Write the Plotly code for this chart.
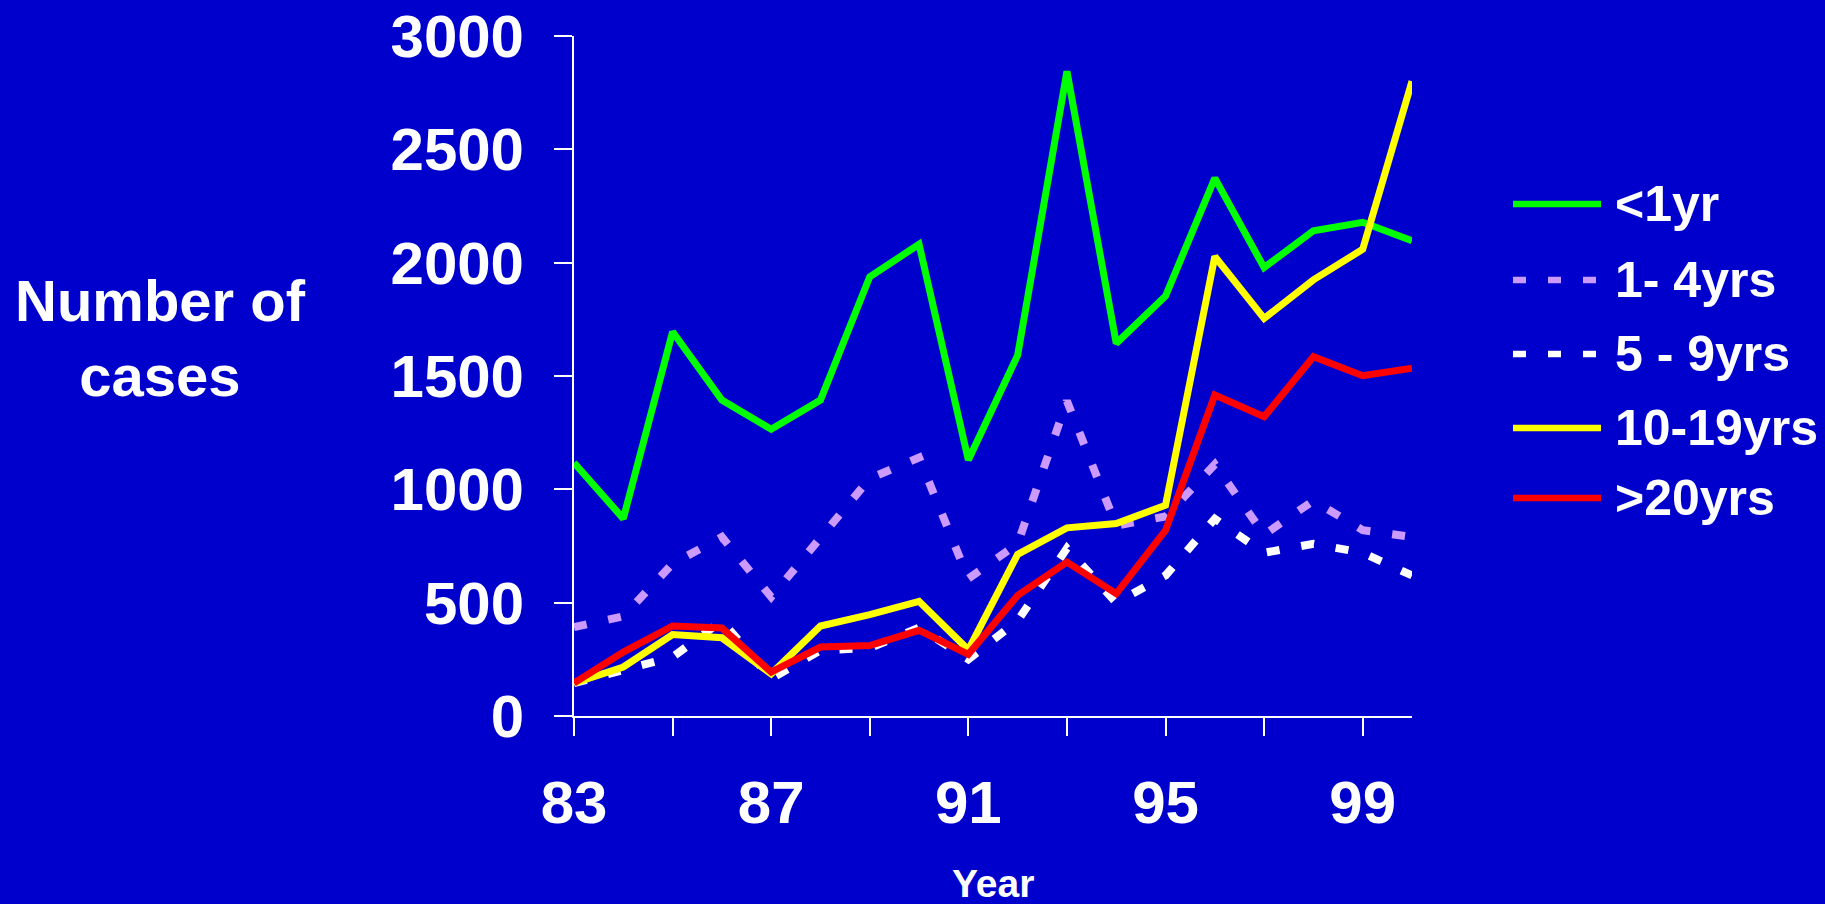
import plotly.graph_objects as go

years = list(range(83, 101))
series_names = ["<1yr", "1- 4yrs", "5 - 9yrs", "10-19yrs", ">20yrs"]
lt1 = [1117, 871, 1695, 1394, 1265, 1394, 1938, 2081, 1129, 1592, 2844, 1644, 1853, 2373, 1978, 2141, 2178, 2097]
y1_4 = [392, 440, 672, 790, 525, 783, 1048, 1140, 606, 760, 1390, 840, 880, 1110, 800, 950, 820, 790]
y5_9 = [145, 200, 260, 420, 165, 290, 300, 390, 250, 420, 740, 500, 620, 870, 720, 760, 720, 620]
y10_19 = [145, 216, 359, 345, 186, 397, 447, 506, 292, 713, 830, 849, 930, 2027, 1754, 1924, 2059, 2800]
y20 = [145, 282, 397, 388, 194, 304, 311, 378, 272, 532, 679, 540, 819, 1416, 1320, 1585, 1501, 1534]
x_tick_vals = [83, 87, 91, 95, 99]
y_tick_vals = [0, 500, 1000, 1500, 2000, 2500, 3000]

values = [lt1, y1_4, y5_9, y10_19, y20]
colors = ["#00FF00", "#CC99FF", "#FFFFFF", "#FFFF00", "#FF0000"]
dashes = ["solid", "13px,22px", "13px,22px", "solid", "solid"]
widths = [7, 8, 8, 7, 7]

BG = "#0000CC"
FONT = "Liberation Sans"

W, H = 1825, 904
L, R, T, B = 574, 1412, 36, 716

fig = go.Figure()
for name, v, c, d, w in zip(series_names, values, colors, dashes, widths):
    fig.add_trace(go.Scatter(x=years, y=v, mode="lines", name=name,
                             line=dict(color=c, width=w, dash=d),
                             showlegend=False))

def px_x(p):
    return (p - L) / (R - L)

def px_y(p):
    return (B - p) / (B - T)

# custom legend
leg_rows = [204, 280, 354, 428, 498]
shapes = []
annotations = []
for name, c, d, row in zip(series_names, colors, dashes, leg_rows):
    shapes.append(dict(type="line", xref="paper", yref="paper",
                       x0=px_x(1513), x1=px_x(1601), y0=px_y(row), y1=px_y(row),
                       line=dict(color=c, width=6.5, dash=d)))
    annotations.append(dict(text=f"<b>{name}</b>", xref="paper", yref="paper",
                            x=px_x(1613), y=px_y(row), xanchor="left", yanchor="middle",
                            showarrow=False, font=dict(family=FONT, size=50, color="white")))

annotations.append(dict(text="<b>Number of<br>cases</b>", xref="paper", yref="paper",
                        x=px_x(160), y=px_y(338), xanchor="center", yanchor="middle",
                        showarrow=False, align="center",
                        font=dict(family=FONT, size=58, color="white")))
annotations.append(dict(text="<b>Year</b>", xref="paper", yref="paper",
                        x=px_x(993), y=px_y(883), xanchor="center", yanchor="middle",
                        showarrow=False, font=dict(family=FONT, size=39, color="white")))

fig.update_layout(
    width=W, height=H,
    paper_bgcolor=BG, plot_bgcolor=BG,
    margin=dict(l=L, r=W - R, t=T, b=H - B, pad=0, autoexpand=False),
    showlegend=False,
    shapes=shapes,
    annotations=annotations,
    font=dict(family=FONT, color="white"),
    xaxis=dict(range=[83, 100], tickmode="array", tickvals=x_tick_vals,
               ticktext=[f"<b>{v}</b>" for v in x_tick_vals],
               ticks="outside", ticklen=18, tickwidth=2, tickcolor="white",
               showline=True, linecolor="white", linewidth=2,
               showgrid=False, zeroline=False, automargin=False,
               tickfont=dict(family=FONT, size=60, color="white"),
               ticklabelstandoff=15,
               minor=dict(tickmode="linear", tick0=83, dtick=2, ticks="outside",
                          ticklen=18, tickwidth=2, tickcolor="white", showgrid=False)),
    yaxis=dict(range=[0, 3000], tickmode="array", tickvals=y_tick_vals,
               ticktext=[f"<b>{v}</b>" for v in y_tick_vals],
               ticks="outside", ticklen=18, tickwidth=2, tickcolor="white",
               showline=True, linecolor="white", linewidth=2,
               showgrid=False, zeroline=False, automargin=False,
               tickfont=dict(family=FONT, size=60, color="white"),
               ticklabelstandoff=18),
)

fig.write_html("out.html")
